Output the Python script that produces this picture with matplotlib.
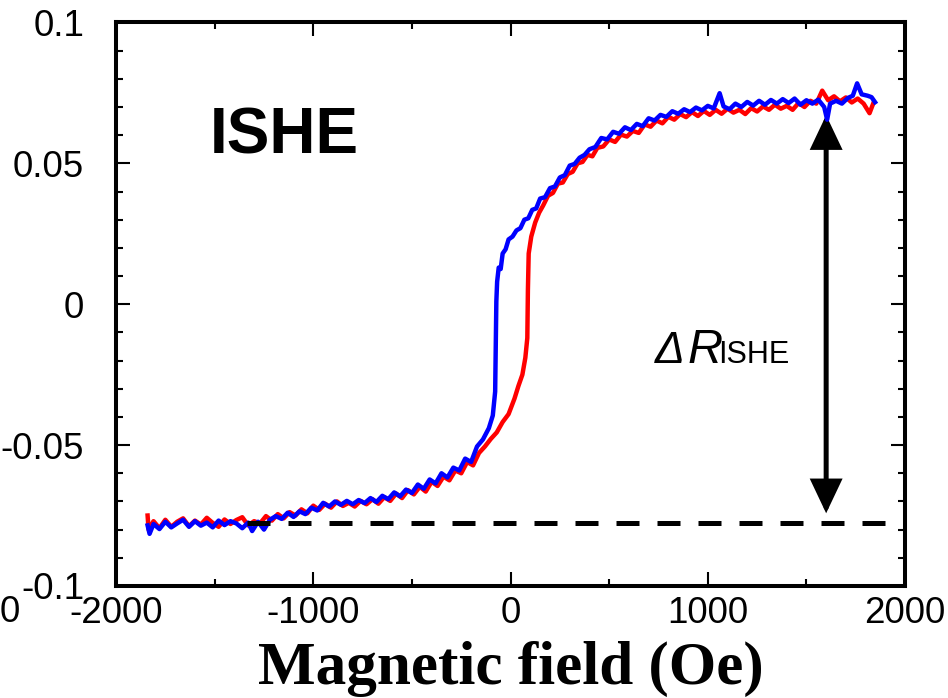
import matplotlib
matplotlib.use("Agg")
import matplotlib.pyplot as plt
from matplotlib.patches import FancyArrowPatch

# Field sweep, increasing (red) branch: field (Oe), signal
red_field = [-1840, -1835, -1810, -1780, -1750, -1720, -1690, -1660, -1630, -1600,
             -1570, -1540, -1510, -1480, -1450, -1420, -1390, -1360, -1330, -1300,
             -1270, -1240, -1210, -1180, -1150, -1120, -1090, -1060, -1030, -1000,
             -970, -940, -910, -880, -850, -820, -790, -760, -730, -700,
             -670, -640, -610, -580, -550, -520, -490, -460, -430, -400,
             -370, -340, -310, -280, -250, -220, -190, -160, -130, -100,
             -70, -40, -10, 20, 40, 60, 75, 85, 88, 92,
             105, 125, 145, 165, 190, 215, 240, 265, 290, 315,
             340, 365, 390, 415, 440, 470, 500, 530, 560, 590,
             620, 650, 680, 710, 740, 770, 800, 830, 860, 890,
             920, 950, 980, 1010, 1040, 1070, 1100, 1130, 1160, 1190,
             1220, 1250, 1280, 1310, 1340, 1370, 1400, 1430, 1460, 1490,
             1520, 1550, 1580, 1610, 1640, 1670, 1700, 1730, 1760, 1790,
             1820, 1840]
red_signal = [-0.0750, -0.0800, -0.0770, -0.0795, -0.0765, -0.0790, -0.0772, -0.0760, -0.0788, -0.0768,
              -0.0782, -0.0758, -0.0776, -0.0790, -0.0764, -0.0780, -0.0766, -0.0756, -0.0785, -0.0770,
              -0.0778, -0.0752, -0.0768, -0.0745, -0.0760, -0.0738, -0.0750, -0.0728, -0.0742, -0.0715,
              -0.0730, -0.0708, -0.0722, -0.0700, -0.0716, -0.0705, -0.0718, -0.0698, -0.0710, -0.0692,
              -0.0708, -0.0685, -0.0698, -0.0672, -0.0688, -0.0660, -0.0675, -0.0648, -0.0665, -0.0630,
              -0.0645, -0.0612, -0.0625, -0.0590, -0.0600, -0.0560, -0.0572, -0.0528, -0.0505, -0.0478,
              -0.0455, -0.0418, -0.0390, -0.0335, -0.0290, -0.0250, -0.0190, -0.0120, 0.0050, 0.0180,
              0.0240, 0.0290, 0.0325, 0.0350, 0.0385, 0.0395, 0.0428, 0.0432, 0.0462, 0.0470,
              0.0500, 0.0505, 0.0530, 0.0525, 0.0555, 0.0560, 0.0585, 0.0576, 0.0602, 0.0595,
              0.0615, 0.0608, 0.0638, 0.0630, 0.0652, 0.0642, 0.0665, 0.0655, 0.0675, 0.0664,
              0.0682, 0.0668, 0.0686, 0.0672, 0.0690, 0.0676, 0.0694, 0.0680, 0.0690, 0.0675,
              0.0696, 0.0684, 0.0702, 0.0690, 0.0708, 0.0694, 0.0704, 0.0690, 0.0714, 0.0700,
              0.0722, 0.0712, 0.0758, 0.0724, 0.0738, 0.0720, 0.0734, 0.0716, 0.0730, 0.0712,
              0.0678, 0.0715]

# Field sweep, decreasing (blue) branch
blue_field = [-1840, -1830, -1810, -1780, -1750, -1720, -1690, -1660, -1630, -1600,
              -1570, -1540, -1510, -1480, -1450, -1420, -1390, -1360, -1330, -1310,
              -1280, -1250, -1220, -1190, -1160, -1130, -1100, -1070, -1040, -1010,
              -980, -950, -920, -890, -860, -830, -800, -770, -740, -710,
              -680, -650, -620, -590, -560, -530, -500, -470, -440, -410,
              -380, -350, -320, -290, -260, -230, -200, -170, -140, -110,
              -90, -78, -75, -72, -68, -60, -50, -40, -25, -10,
              10, 30, 50, 70, 90, 110, 130, 150, 175, 200,
              225, 250, 275, 300, 325, 350, 375, 400, 430, 460,
              490, 520, 550, 580, 610, 640, 670, 700, 730, 760,
              790, 820, 850, 880, 910, 940, 970, 1000, 1030, 1060,
              1080, 1110, 1140, 1170, 1200, 1230, 1260, 1290, 1320, 1350,
              1380, 1410, 1440, 1470, 1500, 1530, 1560, 1590, 1605, 1620,
              1650, 1680, 1710, 1735, 1757, 1780, 1810, 1830, 1848]
blue_signal = [-0.0785, -0.0815, -0.0780, -0.0798, -0.0772, -0.0792, -0.0778, -0.0765, -0.0790, -0.0770,
               -0.0786, -0.0775, -0.0792, -0.0768, -0.0784, -0.0770, -0.0778, -0.0795, -0.0775, -0.0805,
               -0.0772, -0.0800, -0.0765, -0.0752, -0.0762, -0.0740, -0.0755, -0.0735, -0.0745, -0.0722,
               -0.0732, -0.0705, -0.0718, -0.0700, -0.0712, -0.0698, -0.0710, -0.0695, -0.0706, -0.0688,
               -0.0702, -0.0680, -0.0692, -0.0668, -0.0682, -0.0658, -0.0670, -0.0640, -0.0655, -0.0622,
               -0.0636, -0.0600, -0.0615, -0.0580, -0.0590, -0.0548, -0.0560, -0.0505, -0.0480, -0.0440,
               -0.0395, -0.0310, -0.0150, 0.0010, 0.0080, 0.0130, 0.0125, 0.0180, 0.0195, 0.0230,
               0.0240, 0.0262, 0.0270, 0.0300, 0.0305, 0.0335, 0.0340, 0.0375, 0.0380, 0.0412,
               0.0418, 0.0450, 0.0458, 0.0492, 0.0498, 0.0520, 0.0530, 0.0550, 0.0558, 0.0590,
               0.0585, 0.0612, 0.0605, 0.0628, 0.0618, 0.0640, 0.0632, 0.0660, 0.0652, 0.0672,
               0.0665, 0.0685, 0.0676, 0.0692, 0.0682, 0.0698, 0.0688, 0.0704, 0.0695, 0.0749,
               0.0702, 0.0692, 0.0712, 0.0700, 0.0718, 0.0705, 0.0722, 0.0708, 0.0725, 0.0712,
               0.0728, 0.0714, 0.0730, 0.0708, 0.0724, 0.0712, 0.0726, 0.0700, 0.0655, 0.0712,
               0.0722, 0.0712, 0.0732, 0.0740, 0.0784, 0.0745, 0.0740, 0.0735, 0.0717]

x_ticks = [-2000, -1000, 0, 1000, 2000]
x_tick_labels = ["-2000", "-1000", "0", "1000", "2000"]
y_ticks = [-0.1, -0.05, 0, 0.05, 0.1]
y_tick_labels = ["-0.1", "-0.05", "0", "0.05", "0.1"]

# Saturation baseline and the span marked by the double arrow
baseline_level = -0.0777
baseline_start, baseline_end = -1336, 1909
arrow_field = 1600
arrow_bottom, arrow_top = -0.0742, 0.0671

SANS = "Liberation Sans"
SERIF = "Liberation Serif"

fig = plt.figure(figsize=(9.48, 6.98), dpi=100)
ax = fig.add_axes([0.1224, 0.1605, 0.8323, 0.8073])

ax.plot(red_field, red_signal, color="#ff0000", lw=3.2, solid_joinstyle="round")
ax.plot(blue_field, blue_signal, color="#0000ff", lw=3.2, solid_joinstyle="round")

ax.plot([baseline_start, baseline_end], [baseline_level, baseline_level],
        color="black", lw=3.6, dashes=(4.6, 3.6), dash_capstyle="butt")

arrow = FancyArrowPatch((arrow_field, arrow_bottom), (arrow_field, arrow_top),
                        arrowstyle="<|-|>,head_length=1.9,head_width=0.9",
                        mutation_scale=10, lw=3.6, color="black",
                        shrinkA=0, shrinkB=0, joinstyle="miter")
ax.add_patch(arrow)

ax.set_xlim(-2000, 2000)
ax.set_ylim(-0.1, 0.1)
ax.set_xticks(x_ticks)
ax.set_xticklabels(x_tick_labels)
ax.set_yticks(y_ticks)
ax.set_yticklabels(y_tick_labels)
ax.set_xticks([-1500, -500, 500, 1500], minor=True)
ax.set_yticks([-0.09, -0.08, -0.07, -0.06, -0.04, -0.03, -0.02, -0.01,
               0.01, 0.02, 0.03, 0.04, 0.06, 0.07, 0.08, 0.09], minor=True)

for s in ax.spines.values():
    s.set_linewidth(2.9)
ax.tick_params(which="both", direction="in", top=True, right=True)
ax.tick_params(which="major", length=10, width=1.5)
ax.tick_params(which="minor", length=5, width=1.5)
ax.tick_params(axis="x", which="major", pad=7)
ax.tick_params(axis="y", which="major", pad=23)
for lab in ax.get_xticklabels() + ax.get_yticklabels():
    lab.set_fontfamily(SANS)
    lab.set_fontsize(26.5)

ax.set_xlabel("Magnetic field (Oe)", family=SERIF, fontweight="bold",
              fontsize=44, labelpad=7)

ax.text(-1523, 0.0536, "ISHE", family=SANS, fontweight="bold", fontsize=46,
        ha="left", va="baseline")

ax.text(733, -0.0209, "\u0394", family=SANS, style="italic", fontsize=32,
        ha="left", va="baseline")
ax.text(895, -0.0209, "R", family=SANS, style="italic", fontsize=35,
        ha="left", va="baseline")
ax.text(1052, -0.0209, "ISHE", family=SANS, fontsize=22,
        ha="left", va="baseline")

fig.text(10 / 948, 1 - 595 / 698, "0", family=SANS, fontsize=26.5,
         ha="center", va="top")

fig.savefig("out.png", dpi=100)
